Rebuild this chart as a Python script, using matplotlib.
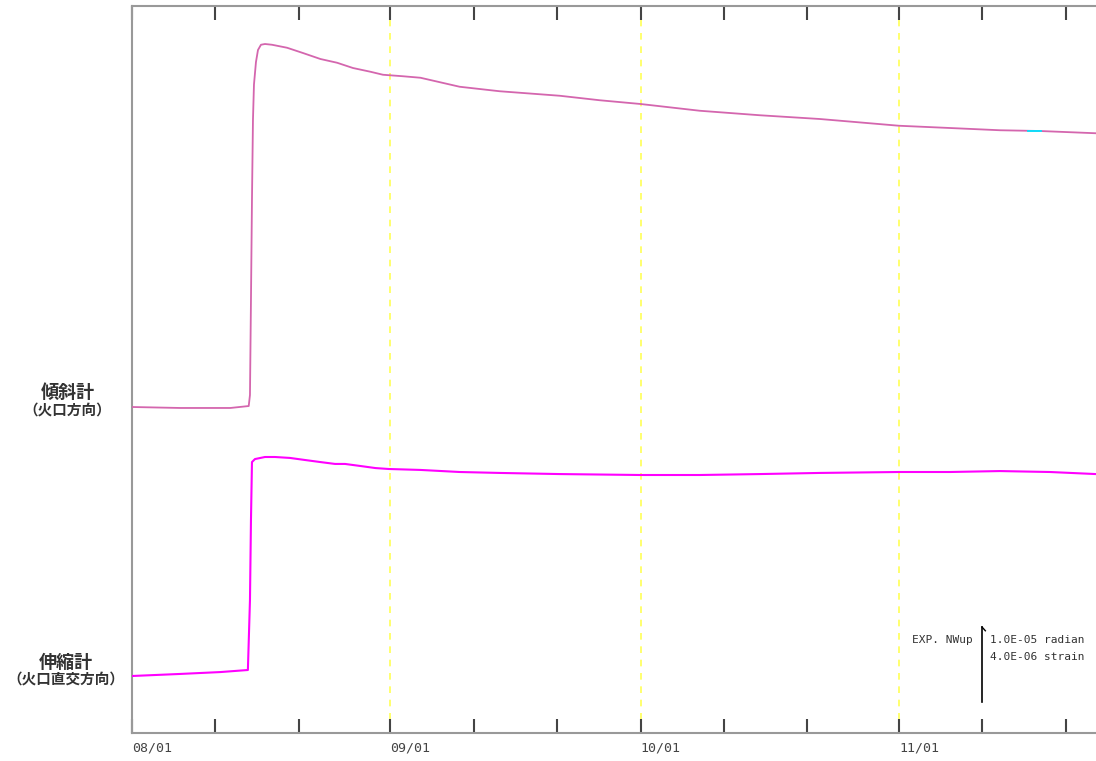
import matplotlib
matplotlib.use("Agg")
import matplotlib.pyplot as plt
import numpy as np

# ---- data (days since 08/01) ----
tilt_days = [0.0, 5.8, 11.8, 14.0, 14.15, 14.27, 14.39, 14.51, 14.63, 14.87, 15.11, 15.47,
             15.95, 16.79, 18.6, 20.5, 22.6, 24.6, 26.5, 28.6, 30.1, 32.5, 34.6, 39.3,
             44.1, 51.3, 56.1, 61.0, 68.1, 75.3, 82.5, 92.0, 98.1, 104.1, 108.9, 115.6]
tilt_urad = [0.0, -0.13, -0.13, 0.13, 1.6, 14.3, 27.6, 38.3, 43.0, 46.0, 47.6, 48.3,
             48.4, 48.3, 47.9, 47.2, 46.4, 45.9, 45.2, 44.7, 44.3, 44.1, 43.9, 42.7,
             42.1, 41.5, 40.9, 40.4, 39.5, 38.9, 38.4, 37.5, 37.2, 36.9, 36.8, 36.5]

cyan_days = [107.5, 109.0]
cyan_urad = [36.8, 36.8]

strain_days = [0.0, 5.8, 10.6, 13.9, 14.15, 14.27, 14.39, 14.75, 15.95, 17.15, 18.95,
               20.75, 22.6, 24.35, 25.55, 27.4, 29.2, 30.8, 34.6, 39.3, 44.1, 51.3,
               61.0, 68.1, 75.3, 82.5, 92.0, 98.1, 104.1, 110.1, 115.6]
strain_ustrain = [0.0, 0.11, 0.21, 0.32, 4.05, 8.32, 11.41, 11.57, 11.68, 11.68, 11.63,
                  11.52, 11.41, 11.31, 11.31, 11.20, 11.09, 11.04, 10.99, 10.88, 10.83,
                  10.77, 10.72, 10.72, 10.77, 10.83, 10.88, 10.88, 10.93, 10.88, 10.77]

month_days = [0, 31, 61, 92]
month_labels = ["08/01", "09/01", "10/01", "11/01"]
minor_days = [10, 20, 41, 51, 71, 81, 102, 112]

# ---- layout constants ----
px_per_unit = 7.5            # 1 urad = 7.5 px
tilt_base = (733 - 407) / px_per_unit
strain_base = (733 - 676) / px_per_unit
strain_factor = 2.5          # 4e-6 strain == 10 units

plt.rcParams['font.family'] = ['Noto Sans CJK JP', 'DejaVu Sans']

fig = plt.figure(figsize=(10.96, 7.61), dpi=100)
ax = fig.add_axes([132 / 1096, 28 / 761, 964 / 1096, 727 / 761])
ax.set_xlim(0, 964 / 8.337)
ax.set_ylim(0, 727 / px_per_unit)

for d in month_days[1:]:
    ax.axvline(d, color="#ffff55", lw=1.2, ls=(0, (4, 4)), zorder=1)

ax.plot(tilt_days, tilt_base + np.array(tilt_urad), color="#d466ae", lw=1.3, zorder=3)
ax.plot(cyan_days, tilt_base + np.array(cyan_urad), color="#00e5ff", lw=1.3, zorder=4)
ax.plot(strain_days, strain_base + strain_factor * np.array(strain_ustrain),
        color="#ff00ff", lw=1.5, zorder=3)

for s in ["left", "bottom", "top"]:
    ax.spines[s].set_color("#999999")
    ax.spines[s].set_linewidth(1.5)
ax.spines["right"].set_visible(False)

ax.set_yticks([])
ax.set_xticks(month_days)
ax.set_xticklabels(month_labels, ha="left", fontfamily="DejaVu Sans Mono",
                   fontsize=9.5, color="#444444")
ax.set_xticks(minor_days, minor=True)
ax.tick_params(axis="x", which="both", direction="in", length=10, width=1.5,
               color="#444444", top=True, pad=6)
ax.tick_params(axis="x", which="major", labeltop=False)

# scale bar
xb = (982 - 132) / 8.337
y0 = (733 - 702) / px_per_unit
ax.plot([xb, xb], [y0, y0 + 10], color="black", lw=1.2, zorder=5, clip_on=False)
ax.plot([xb, xb + 0.4], [y0 + 10, y0 + 9.5], color="black", lw=1.0, zorder=5)
ax.text(xb - 1.1, y0 + 8.3, "EXP. NWup", ha="right", va="center",
        fontfamily="DejaVu Sans Mono", fontsize=8, color="#333333")
ax.text(xb + 1.0, y0 + 8.3, "1.0E-05 radian", ha="left", va="center",
        fontfamily="DejaVu Sans Mono", fontsize=8, color="#333333")
ax.text(xb + 1.0, y0 + 6.0, "4.0E-06 strain", ha="left", va="center",
        fontfamily="DejaVu Sans Mono", fontsize=8, color="#333333")

# left labels
fig.text(68 / 1096, 1 - 392 / 761, "傾斜計", ha="center", va="center",
         fontsize=13, fontweight="bold", color="#333333")
fig.text(67 / 1096, 1 - 411 / 761, "（火口方向）", ha="center", va="center",
         fontsize=10.5, fontweight="bold", color="#333333")
fig.text(66 / 1096, 1 - 662 / 761, "伸縮計", ha="center", va="center",
         fontsize=13, fontweight="bold", color="#333333")
fig.text(66 / 1096, 1 - 680 / 761, "（火口直交方向）", ha="center", va="center",
         fontsize=10.5, fontweight="bold", color="#333333")

fig.savefig("out.png", dpi=100, facecolor="white")
